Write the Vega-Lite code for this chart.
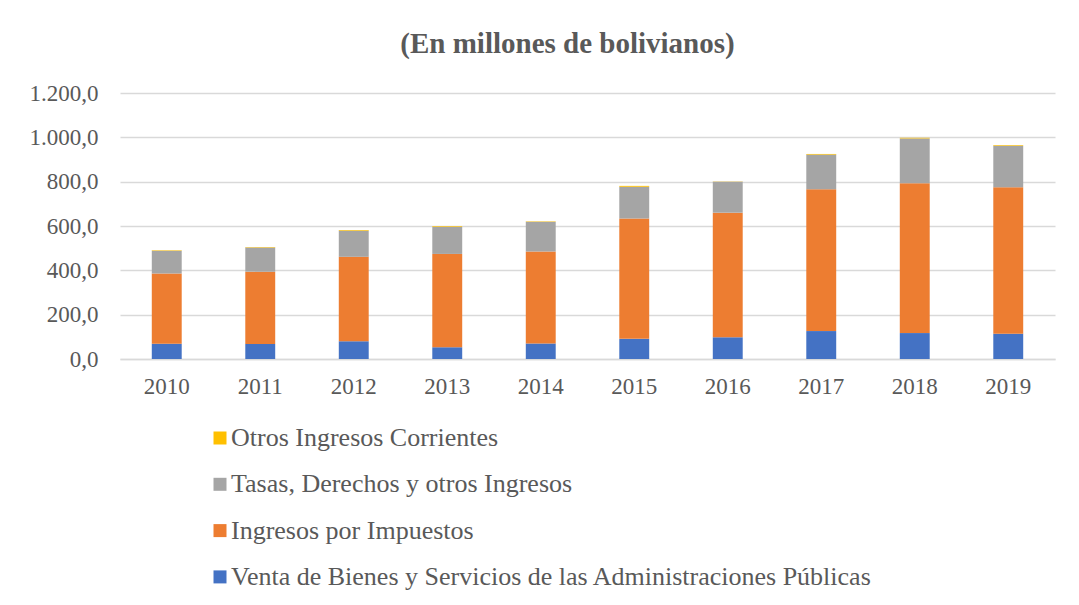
{
  "$schema": "https://vega.github.io/schema/vega-lite/v6.json",
  "width": 935,
  "height": 266,
  "autosize": "none",
  "padding": {"left": 120, "top": 93, "right": 24, "bottom": 246},
  "background": "white",
  "config": {
    "locale": {"number": {"decimal": ",", "thousands": ".", "grouping": [3], "currency": ["", ""]}},
    "view": {"stroke": null},
    "font": "Liberation Serif"
  },
  "title": {
    "text": "(En millones de bolivianos)",
    "font": "Liberation Serif",
    "fontWeight": "bold",
    "fontSize": 29,
    "color": "#595959",
    "anchor": "middle",
    "dx": -20,
    "offset": 23
  },
  "data": {
    "values": [
      {"anio": "2010", "serie": "Venta de Bienes y Servicios de las Administraciones Públicas", "n": 1, "valor": 69},
      {"anio": "2010", "serie": "Ingresos por Impuestos", "n": 2, "valor": 317},
      {"anio": "2010", "serie": "Tasas, Derechos y otros Ingresos", "n": 3, "valor": 102},
      {"anio": "2010", "serie": "Otros Ingresos Corrientes", "n": 4, "valor": 3},
      {"anio": "2011", "serie": "Venta de Bienes y Servicios de las Administraciones Públicas", "n": 1, "valor": 68},
      {"anio": "2011", "serie": "Ingresos por Impuestos", "n": 2, "valor": 326},
      {"anio": "2011", "serie": "Tasas, Derechos y otros Ingresos", "n": 3, "valor": 109},
      {"anio": "2011", "serie": "Otros Ingresos Corrientes", "n": 4, "valor": 2},
      {"anio": "2012", "serie": "Venta de Bienes y Servicios de las Administraciones Públicas", "n": 1, "valor": 80},
      {"anio": "2012", "serie": "Ingresos por Impuestos", "n": 2, "valor": 381},
      {"anio": "2012", "serie": "Tasas, Derechos y otros Ingresos", "n": 3, "valor": 118},
      {"anio": "2012", "serie": "Otros Ingresos Corrientes", "n": 4, "valor": 3},
      {"anio": "2013", "serie": "Venta de Bienes y Servicios de las Administraciones Públicas", "n": 1, "valor": 53},
      {"anio": "2013", "serie": "Ingresos por Impuestos", "n": 2, "valor": 421},
      {"anio": "2013", "serie": "Tasas, Derechos y otros Ingresos", "n": 3, "valor": 122},
      {"anio": "2013", "serie": "Otros Ingresos Corrientes", "n": 4, "valor": 3},
      {"anio": "2014", "serie": "Venta de Bienes y Servicios de las Administraciones Públicas", "n": 1, "valor": 70},
      {"anio": "2014", "serie": "Ingresos por Impuestos", "n": 2, "valor": 415},
      {"anio": "2014", "serie": "Tasas, Derechos y otros Ingresos", "n": 3, "valor": 134},
      {"anio": "2014", "serie": "Otros Ingresos Corrientes", "n": 4, "valor": 2},
      {"anio": "2015", "serie": "Venta de Bienes y Servicios de las Administraciones Públicas", "n": 1, "valor": 91},
      {"anio": "2015", "serie": "Ingresos por Impuestos", "n": 2, "valor": 543},
      {"anio": "2015", "serie": "Tasas, Derechos y otros Ingresos", "n": 3, "valor": 143},
      {"anio": "2015", "serie": "Otros Ingresos Corrientes", "n": 4, "valor": 4},
      {"anio": "2016", "serie": "Venta de Bienes y Servicios de las Administraciones Públicas", "n": 1, "valor": 98},
      {"anio": "2016", "serie": "Ingresos por Impuestos", "n": 2, "valor": 562},
      {"anio": "2016", "serie": "Tasas, Derechos y otros Ingresos", "n": 3, "valor": 140},
      {"anio": "2016", "serie": "Otros Ingresos Corrientes", "n": 4, "valor": 1},
      {"anio": "2017", "serie": "Venta de Bienes y Servicios de las Administraciones Públicas", "n": 1, "valor": 126},
      {"anio": "2017", "serie": "Ingresos por Impuestos", "n": 2, "valor": 640},
      {"anio": "2017", "serie": "Tasas, Derechos y otros Ingresos", "n": 3, "valor": 156},
      {"anio": "2017", "serie": "Otros Ingresos Corrientes", "n": 4, "valor": 3},
      {"anio": "2018", "serie": "Venta de Bienes y Servicios de las Administraciones Públicas", "n": 1, "valor": 117},
      {"anio": "2018", "serie": "Ingresos por Impuestos", "n": 2, "valor": 676},
      {"anio": "2018", "serie": "Tasas, Derechos y otros Ingresos", "n": 3, "valor": 202},
      {"anio": "2018", "serie": "Otros Ingresos Corrientes", "n": 4, "valor": 3},
      {"anio": "2019", "serie": "Venta de Bienes y Servicios de las Administraciones Públicas", "n": 1, "valor": 114},
      {"anio": "2019", "serie": "Ingresos por Impuestos", "n": 2, "valor": 661},
      {"anio": "2019", "serie": "Tasas, Derechos y otros Ingresos", "n": 3, "valor": 187},
      {"anio": "2019", "serie": "Otros Ingresos Corrientes", "n": 4, "valor": 3}
    ]
  },
  "mark": {"type": "bar"},
  "encoding": {
    "x": {
      "field": "anio",
      "type": "nominal",
      "title": null,
      "scale": {"paddingInner": 0.68, "paddingOuter": 0.34},
      "axis": {
        "labelAngle": 0,
        "labelFont": "Liberation Serif",
        "labelFontSize": 23,
        "labelColor": "#595959",
        "labelPadding": 16,
        "ticks": false,
        "domainColor": "#d9d9d9",
        "domainWidth": 1.5
      }
    },
    "y": {
      "field": "valor",
      "type": "quantitative",
      "aggregate": "sum",
      "stack": "zero",
      "title": null,
      "scale": {"domain": [0, 1200]},
      "axis": {
        "values": [0, 200, 400, 600, 800, 1000, 1200],
        "format": ",.1f",
        "labelFont": "Liberation Serif",
        "labelFontSize": 23,
        "labelColor": "#595959",
        "labelPadding": 22,
        "ticks": false,
        "domain": false,
        "gridColor": "#d9d9d9",
        "gridWidth": 1.5
      }
    },
    "order": {"field": "n", "type": "quantitative", "sort": "ascending"},
    "color": {
      "field": "serie",
      "type": "nominal",
      "scale": {
        "domain": ["Otros Ingresos Corrientes", "Tasas, Derechos y otros Ingresos", "Ingresos por Impuestos", "Venta de Bienes y Servicios de las Administraciones Públicas"],
        "range": ["#ffc000", "#a5a5a5", "#ed7d31", "#4472c4"]
      },
      "legend": {
        "title": null,
        "orient": "none",
        "legendX": 87,
        "legendY": 332,
        "direction": "vertical",
        "symbolType": "square",
        "symbolSize": 169,
        "symbolStrokeWidth": 0,
        "labelFont": "Liberation Serif",
        "labelFontSize": 26,
        "labelColor": "#595959",
        "labelOffset": -2,
        "labelLimit": 900,
        "rowPadding": 20.3
      }
    }
  }
}
